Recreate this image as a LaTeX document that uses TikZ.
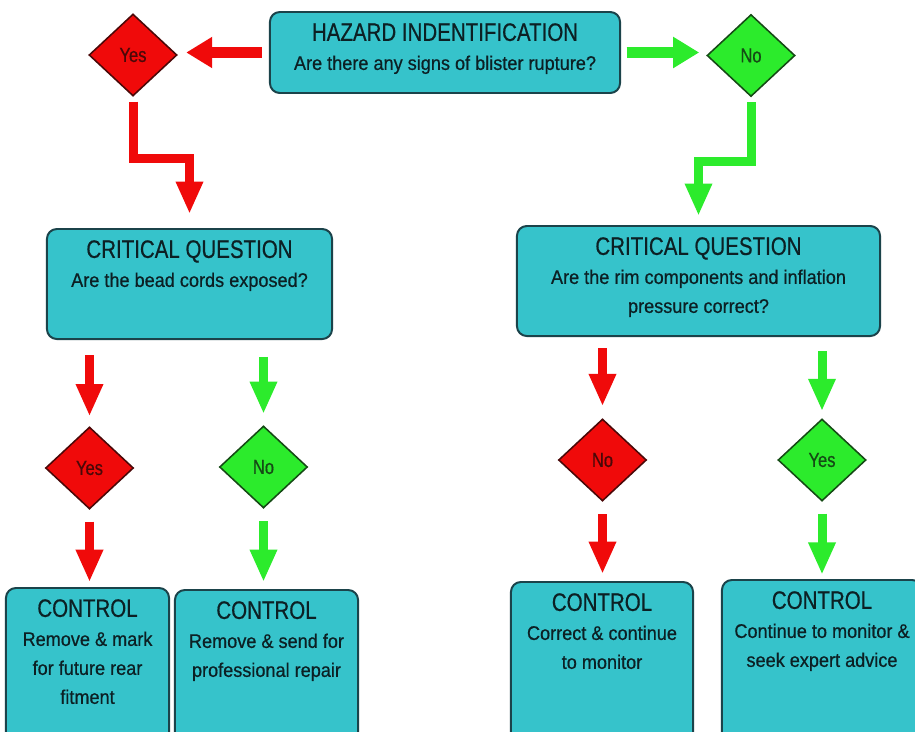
\documentclass[tikz,border=0pt]{standalone}
\usepackage{fontspec}
\setmainfont{Liberation Sans}[FakeStretch=0.92,FakeBold=0.6]
\newfontfamily\headfont{Liberation Sans}[FakeStretch=0.81,FakeBold=0.5]
\usetikzlibrary{shapes.geometric,arrows.meta}
\definecolor{boxfill}{HTML}{36C3CB}
\definecolor{boxline}{HTML}{1B434A}
\definecolor{boxtext}{HTML}{0C2024}
\definecolor{hazred}{HTML}{F00A0A}
\definecolor{hazgreen}{HTML}{2CEB2C}
\definecolor{redline}{HTML}{4A0808}
\definecolor{greenline}{HTML}{154A15}
\newcommand{\hd}[1]{{\headfont\fontsize{18}{20}\selectfont #1}}
\begin{document}
\begin{tikzpicture}[x=0.025cm,y=-0.025cm,
  box/.style={draw=boxline,fill=boxfill,line width=1.4pt,rounded corners=7pt,inner sep=0pt},
  txt/.style={anchor=north,yshift=-8.5pt,inner sep=0pt,align=center,text=boxtext,font=\fontsize{14}{20.6}\selectfont},
  yesno/.style={diamond,line width=1.1pt,inner sep=0pt,minimum width=2.2cm,minimum height=2.05cm,font=\headfont\fontsize{14.5}{16}\selectfont},
  redq/.style={yesno,fill=hazred,draw=redline,text=redline},
  greenq/.style={yesno,fill=hazgreen,draw=greenline,text=greenline},
  bigarr/.style={line width=8.5pt,-{Triangle[width=21pt,length=18.5pt]}},
  arr/.style={line width=6.4pt,line join=miter,-{Triangle[width=18pt,length=23pt]}}]
\useasboundingbox (0,0) rectangle (915,731);
\fill[white] (0,0) rectangle (915,731);
\clip (0,0) rectangle (915,731);

% hazard question
\node[box,minimum width=8.75cm,minimum height=2.025cm,
  label={[txt]north:{\hd{HAZARD INDENTIFICATION}\\Are there any signs of blister rupture?}}] (haz) at (445,52.5) {};
\node[redq] (yes1) at (133,55) {Yes};
\node[greenq] (no1) at (751,55.5) {No};

% critical questions
\node[box,minimum width=7.125cm,minimum height=2.75cm,
  label={[txt]north:{\hd{CRITICAL QUESTION}\\Are the bead cords exposed?}}] (cq1) at (189.5,284) {};
\node[box,minimum width=9.075cm,minimum height=2.75cm,
  label={[txt]north:{\hd{CRITICAL QUESTION}\\Are the rim components and inflation\\pressure correct?}}] (cq2) at (698.5,281) {};
\node[redq] (yes2) at (89.5,468) {Yes};
\node[greenq] (no2) at (263.5,467) {No};
\node[redq] (no3) at (602.5,460) {No};
\node[greenq] (yes3) at (822,460) {Yes};

% controls
\node[box,anchor=north,minimum width=4.075cm,minimum height=4.5cm,
  label={[txt]north:{\hd{CONTROL}\\Remove \& mark\\for future rear\\fitment}}] (ctrl1) at (87.5,587) {};
\node[box,anchor=north,minimum width=4.575cm,minimum height=4.5cm,
  label={[txt]north:{\hd{CONTROL}\\Remove \& send for\\professional repair}}] (ctrl2) at (266.5,589) {};
\node[box,anchor=north,minimum width=4.55cm,minimum height=4.5cm,
  label={[txt]north:{\hd{CONTROL}\\Correct \& continue\\to monitor}}] (ctrl3) at (602,581) {};
\node[box,anchor=north,minimum width=5cm,minimum height=4.5cm,
  label={[txt]north:{\hd{CONTROL}\\Continue to monitor \&\\seek expert advice}}] (ctrl4) at (822,579) {};

% arrows
\draw[bigarr,hazred,shorten <=5pt,shorten >=6pt] (haz.west) -- (haz.west -| yes1.east);
\draw[bigarr,hazgreen,shorten <=4pt,shorten >=5pt] (haz.east) -- (haz.east -| no1.west);
\draw[arr,hazred,shorten <=3.5pt,shorten >=10pt] (yes1.south) -- ++(0,62) -| (cq1.north);
\draw[arr,hazgreen,shorten <=3.5pt,shorten >=6.5pt] (no1.south) -- ++(0,64) -| (cq2.north);
\draw[arr,hazred,shorten <=11pt,shorten >=7pt] (cq1.south -| yes2.north) -- (yes2.north);
\draw[arr,hazgreen,shorten <=12pt,shorten >=8pt] (cq1.south -| no2.north) -- (no2.north);
\draw[arr,hazred,shorten <=8pt,shorten >=8.5pt] (cq2.south -| no3.north) -- (no3.north);
\draw[arr,hazgreen,shorten <=10pt,shorten >=5pt] (cq2.south -| yes3.north) -- (yes3.north);
\draw[arr,hazred,shorten <=8.5pt,shorten >=3.5pt] (yes2.south) -- (yes2.south |- ctrl1.north);
\draw[arr,hazgreen,shorten <=9pt,shorten >=5pt] (no2.south) -- (no2.south |- ctrl2.north);
\draw[arr,hazred,shorten <=9pt,shorten >=5pt] (no3.south) -- (no3.south |- ctrl3.north);
\draw[arr,hazgreen,shorten <=8.5pt,shorten >=3pt] (yes3.south) -- (yes3.south |- ctrl4.north);
\end{tikzpicture}
\end{document}
